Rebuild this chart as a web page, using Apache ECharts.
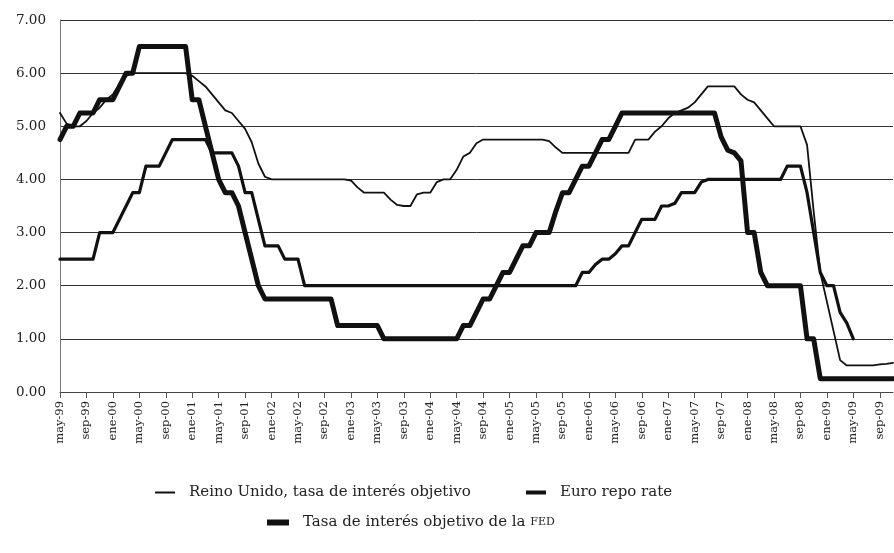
<!DOCTYPE html>
<html>
<head>
<meta charset="utf-8">
<script src="https://cdn.jsdelivr.net/npm/echarts@6/dist/echarts.min.js"></script>
<style>
html,body{margin:0;padding:0;background:#fff;}
#chart{width:894px;height:553px;}
</style>
</head>
<body>
<div id="chart"></div>
<script>
// Month names (Spanish) and the span of the series: may-99 .. nov-09
const monthNames = ['ene','feb','mar','abr','may','jun','jul','ago','sep','oct','nov','dic'];
const startYear = 1999, startMonth = 4, monthCount = 127;
const categories = [];
for (let i = 0; i < monthCount; i++) {
  const m = (startMonth + i) % 12;
  const y = startYear + Math.floor((startMonth + i) / 12);
  categories.push(monthNames[m] + '-' + String(y % 100).padStart(2, '0'));
}
const labelEvery = 4;

const yTicks = [0, 1, 2, 3, 4, 5, 6, 7];

const seriesNames = [
  'Reino Unido, tasa de interés objetivo',
  'Euro repo rate',
  'Tasa de interés objetivo de la FED'
];

// Reino Unido (thin line)
const ukRate = [
  5.25,5.05,5.00,5.00,5.10,5.25,5.35,5.50,5.60,5.80,5.95,
  6.00,6.00,6.00,6.00,6.00,6.00,6.00,6.00,6.00,
  5.95,5.85,5.75,5.60,5.45,5.30,5.25,5.10,4.95,4.70,4.30,4.05,
  4.00,4.00,4.00,4.00,4.00,4.00,4.00,4.00,4.00,4.00,4.00,4.00,3.98,
  3.85,
  3.75,3.75,3.75,3.75,
  3.62,3.52,3.50,3.50,3.72,3.75,3.75,3.95,4.00,4.00,4.18,4.43,4.50,4.68,
  4.75,4.75,4.75,4.75,4.75,4.75,4.75,4.75,4.75,4.75,
  4.72,4.60,
  4.50,4.50,4.50,4.50,4.50,4.50,4.50,4.50,4.50,4.50,4.50,
  4.75,4.75,4.75,4.90,5.00,5.15,5.25,5.30,5.35,5.45,5.60,5.75,
  5.75,5.75,5.75,5.75,
  5.60,5.50,5.45,5.30,5.15,5.00,
  5.00,5.00,5.00,5.00,
  4.65,3.40,2.25,1.70,1.15,0.60,
  0.50,0.50,0.50,0.50,0.50,
  0.52,0.53,0.55
];

// Euro repo rate (medium line), ends may-09
const euroRate = [
  2.50,2.50,2.50,2.50,2.50,2.50,
  3.00,3.00,3.00,
  3.25,3.50,3.75,3.75,
  4.25,4.25,4.25,
  4.50,
  4.75,4.75,4.75,4.75,4.75,4.75,
  4.50,4.50,4.50,4.50,
  4.25,
  3.75,3.75,
  3.25,
  2.75,2.75,2.75,
  2.50,2.50,2.50,
  2.00,2.00,2.00,2.00,2.00,2.00,2.00,2.00,2.00,2.00,
  2.00,2.00,2.00,2.00,2.00,2.00,2.00,2.00,2.00,2.00,
  2.00,2.00,2.00,2.00,2.00,2.00,2.00,2.00,2.00,2.00,
  2.00,2.00,2.00,2.00,2.00,2.00,2.00,2.00,2.00,2.00,
  2.00,2.00,
  2.25,2.25,2.40,2.50,2.50,2.60,2.75,2.75,3.00,3.25,3.25,3.25,3.50,3.50,3.55,3.75,3.75,3.75,3.95,
  4.00,4.00,4.00,4.00,4.00,4.00,4.00,4.00,4.00,4.00,4.00,4.00,
  4.25,4.25,4.25,
  3.75,3.00,2.25,2.00,2.00,1.50,1.30,1.00,
  null,null,null,null,null,null
];

// FED target rate (thick line)
const fedRate = [
  4.75,5.00,5.00,5.25,5.25,5.25,5.50,5.50,5.50,5.75,6.00,6.00,
  6.50,6.50,6.50,6.50,6.50,6.50,6.50,6.50,
  5.50,5.50,5.00,4.50,4.00,3.75,3.75,3.50,3.00,2.50,2.00,
  1.75,1.75,1.75,1.75,1.75,1.75,1.75,1.75,1.75,1.75,1.75,
  1.25,1.25,1.25,1.25,1.25,1.25,1.25,
  1.00,1.00,1.00,1.00,1.00,1.00,1.00,1.00,1.00,1.00,1.00,1.00,
  1.25,1.25,1.50,1.75,1.75,2.00,2.25,2.25,2.50,2.75,2.75,3.00,
  3.00,3.00,3.40,3.75,3.75,4.00,4.25,4.25,4.50,4.75,4.75,5.00,
  5.25,5.25,5.25,5.25,5.25,5.25,5.25,5.25,5.25,5.25,5.25,5.25,5.25,5.25,5.25,
  4.80,4.55,4.50,4.35,3.00,3.00,2.25,2.00,2.00,2.00,2.00,2.00,2.00,
  1.00,1.00,
  0.25,0.25,0.25,0.25,0.25,0.25,0.25,0.25,0.25,0.25,0.25,0.25
];

const FONT = 'DejaVu Serif';
const INK = '#111';

const chart = echarts.init(document.getElementById('chart'), null, {renderer: 'canvas'});

function legendBox(name, left, top, w, h) {
  return {
    data: [name],
    left: left,
    top: top,
    orient: 'horizontal',
    icon: 'rect',
    itemWidth: w,
    itemHeight: h,
    selectedMode: false,
    textStyle: {
      fontFamily: FONT,
      fontSize: 15,
      color: '#222',
      padding: [0, 0, 0, 9],
      rich: {
        a: {fontFamily: FONT, fontSize: 15, color: '#222'},
        b: {fontFamily: FONT, fontSize: 11, color: '#222'}
      }
    },
    formatter: function (n) {
      if (n === seriesNames[2]) {
        return '{a|Tasa de interés objetivo de la }{b|FED}';
      }
      return n;
    }
  };
}

function everyFourth(idx) { return idx % labelEvery === 0; }

const option = {
  animation: false,
  backgroundColor: '#fff',
  grid: {left: 60, right: 1, top: 20, bottom: 161, containLabel: false},
  legend: [
    legendBox(seriesNames[0], 150, 480, 20, 2),
    legendBox(seriesNames[1], 521, 480, 20, 4),
    legendBox(seriesNames[2], 262, 510, 22, 6)
  ],
  xAxis: {
    type: 'category',
    data: categories,
    boundaryGap: false,
    axisLine: {show: true, lineStyle: {color: '#444', width: 1}},
    axisTick: {show: true, interval: everyFourth, length: 6, lineStyle: {color: '#555'}},
    axisLabel: {
      interval: everyFourth,
      rotate: 90,
      margin: 9,
      fontFamily: FONT,
      fontSize: 11.5,
      color: '#222',
      hideOverlap: false
    },
    splitLine: {show: false}
  },
  yAxis: {
    type: 'value',
    min: yTicks[0],
    max: yTicks[yTicks.length - 1],
    interval: 1,
    axisLine: {show: true, lineStyle: {color: '#777', width: 1}},
    axisTick: {show: false},
    axisLabel: {
      margin: 14,
      fontFamily: FONT,
      fontSize: 13.5,
      color: '#222',
      formatter: function (v) { return v.toFixed(2); }
    },
    splitLine: {show: true, lineStyle: {color: '#333', width: 1}}
  },
  series: [
    {
      name: seriesNames[0], type: 'line', data: ukRate, showSymbol: false, symbol: 'none',
      color: INK, lineStyle: {width: 1.8, color: INK, cap: 'round', join: 'round'}, z: 3
    },
    {
      name: seriesNames[1], type: 'line', data: euroRate, showSymbol: false, symbol: 'none',
      color: INK, lineStyle: {width: 3.2, color: INK, cap: 'round', join: 'round'}, z: 4
    },
    {
      name: seriesNames[2], type: 'line', data: fedRate, showSymbol: false, symbol: 'none',
      color: INK, lineStyle: {width: 5, color: INK, cap: 'round', join: 'round'}, z: 5
    }
  ]
};
chart.setOption(option);
</script>
</body>
</html>
